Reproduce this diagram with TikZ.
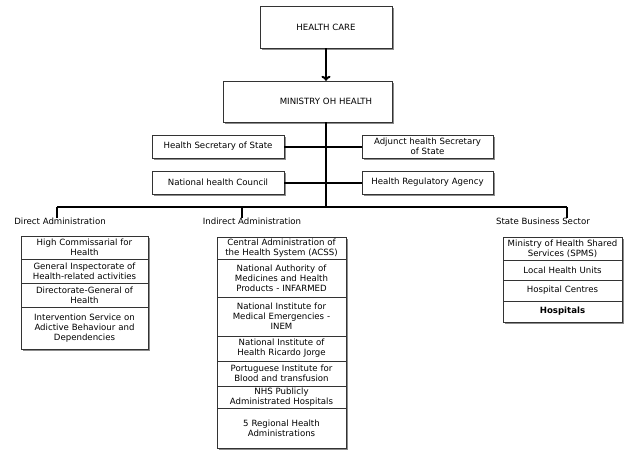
\documentclass[tikz,border=0pt]{standalone}
\usepackage{fontspec}
\setmainfont{DejaVu Sans}
\usetikzlibrary{shadows,arrows.meta}

\begin{document}
\begin{tikzpicture}[x=1pt,y=-1pt, >={To[length=5pt,width=9pt]},
  box/.style={draw=black!80, fill=white, align=center, inner sep=1pt,
    font=\fontsize{8.6}{10}\selectfont,
    drop shadow={shadow xshift=1.5pt,shadow yshift=-1.5pt,fill=black!45,opacity=1}},
  dcol/.style={box, minimum width=127, text width=125, inner sep=0pt},
  icol/.style={box, minimum width=129, text width=127, inner sep=0pt},
  scol/.style={box, minimum width=119, text width=117, inner sep=0pt},
  head/.style={font=\fontsize{8.6}{10}\selectfont, inner sep=0pt},
  link/.style={line width=2pt}]
\useasboundingbox (0,0) rectangle (639,450);

% top of the chart
\node[box, minimum width=132, minimum height=42] (care) at (326,27) {HEALTH CARE};
\node[box, minimum width=169, minimum height=41, text width=160] (ministry) at (307.5,101.5) {\hspace*{37pt}MINISTRY OH HEALTH};
\node[box, minimum width=132, minimum height=23] (hss) at (218,146.5) {Health Secretary of State};
\node[box, minimum width=131, minimum height=23, text width=125] (adj) at (427.5,146.5) {Adjunct health Secretary\\of State};
\node[box, minimum width=132, minimum height=23] (nhc) at (218,182.5) {National health Council};
\node[box, minimum width=131, minimum height=23] (hra) at (427.5,182.5) {Health Regulatory Agency};

\coordinate (hub) at (326,207);
\coordinate (dleft) at (57,207);
\coordinate (dind) at (242,207);
\coordinate (dstate) at (567,207);

\node[head, anchor=north] (direct) at (60,218) {Direct Administration};
\node[head, anchor=north] (indirect) at (252,218) {Indirect Administration};
\node[head, anchor=north] (state) at (543,218) {State Business Sector};

\draw[link,->] (care.south) -- (care.south |- ministry.north);
\draw[link] (care.south |- ministry.south) -- (hub);
\draw[link] (hss.east) -- (adj.west);
\draw[link] (nhc.east) -- (hra.west);
\draw[link] (dleft) -- (dstate);
\draw[link] (dleft) -- (dleft |- direct.north);
\draw[link] (dind) -- (dind |- indirect.north);
\draw[link] (dstate) -- (dstate |- state.north);

% direct administration
\node[dcol, minimum height=23] (d1) at (84.5,247.5) {High Commissarial for\\Health};
\node[dcol, minimum height=24] (d2) at (84.5,271) {General Inspectorate of\\Health-related activities};
\node[dcol, minimum height=24] (d3) at (84.5,295) {Directorate-General of\\Health};
\node[dcol, minimum height=42] (d4) at (84.5,328) {Intervention Service on\\Adictive Behaviour and\\Dependencies};

% indirect administration
\node[icol, minimum height=22] (i1) at (281.5,248) {Central Administration of\\the Health System (ACSS)};
\node[icol, minimum height=38] (i2) at (281.5,278) {National Authority of\\Medicines and Health\\Products - INFARMED};
\node[icol, minimum height=39] (i3) at (281.5,316.5) {National Institute for\\Medical Emergencies -\\INEM};
\node[icol, minimum height=25] (i4) at (281.5,348.5) {National Institute of\\Health Ricardo Jorge};
\node[icol, minimum height=25] (i5) at (281.5,373.5) {Portuguese Institute for\\Blood and transfusion};
\node[icol, minimum height=22] (i6) at (281.5,397) {NHS Publicly\\Administrated Hospitals};
\node[icol, minimum height=40] (i7) at (281.5,428) {5 Regional Health\\Administrations};

% state business sector
\node[scol, minimum height=23] (s1) at (562.5,248.5) {Ministry of Health Shared\\Services (SPMS)};
\node[scol, minimum height=20] (s2) at (562.5,270) {Local Health Units};
\node[scol, minimum height=21] (s3) at (562.5,290.5) {Hospital Centres};
\node[scol, minimum height=21] (s4) at (562.5,311.5) {\bfseries Hospitals};
\end{tikzpicture}
\end{document}
